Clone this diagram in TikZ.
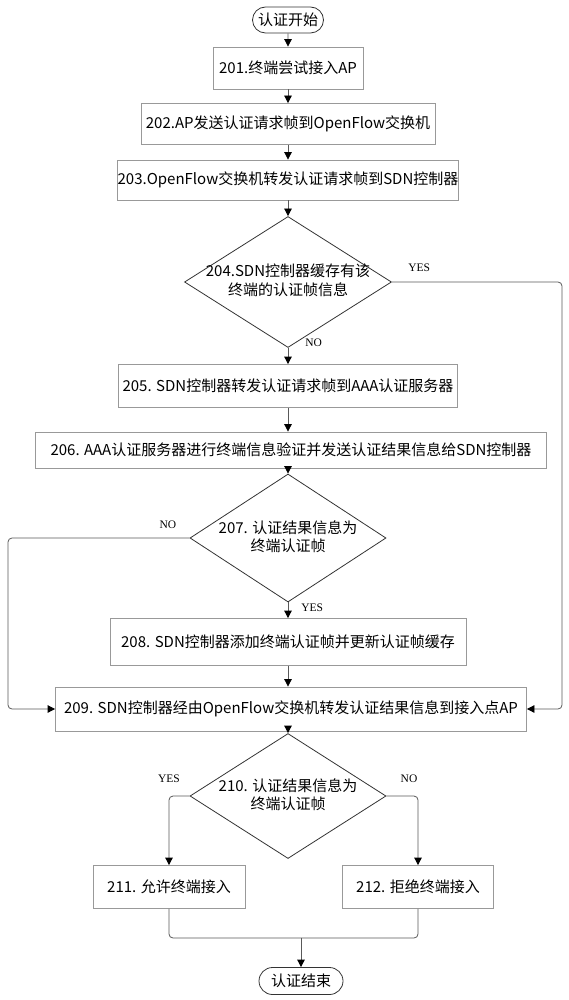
\documentclass[tikz,border=0pt]{standalone}
\usepackage{fontspec}
\newfontfamily\cjk{Noto Sans CJK SC}
\newfontfamily\labfont{Liberation Serif}
\usepackage{tikz}
\usetikzlibrary{shapes.misc,shapes.geometric,arrows.meta,positioning}
% text of a decision, kept out of the size of the diamond
\newcommand{\dtext}[1]{\raisebox{-4pt}[0pt][0pt]{\makebox[0pt]{\begin{tabular}{@{}c@{}}#1\end{tabular}}}}

\begin{document}
\begin{tikzpicture}[x=1pt, y=-1pt,
  font=\cjk\fontsize{15}{18}\selectfont,
  box/.style={draw=black!40, line width=0.8pt, rectangle, inner sep=0pt, minimum height=42pt},
  term/.style={draw=black!80, line width=0.8pt, rounded rectangle, inner sep=0pt, minimum height=26pt},
  dec/.style={draw=black!80, line width=0.8pt, diamond, inner sep=0pt},
  line/.style={draw=black!65, line width=0.8pt, rounded corners=4pt},
  arr/.style={line, -{Triangle[length=7.5pt,width=7.5pt,color=black]}},
  yn/.style={font=\labfont\fontsize{11.5}{13}\selectfont, inner sep=0pt}]
\def \axis {288}
\def \axisb {291}
\useasboundingbox (0,0) rectangle (568,1000);

%start and first steps
\node[term, minimum width=71pt] (start) at (\axis,20) {认证开始};
\node[box, minimum width=150pt] (b201) at (\axis,68) {201.终端尝试接入AP};
\node[box, minimum width=294pt, minimum height=41pt] (b202) at (\axis,124) {202.AP发送认证请求帧到OpenFlow交换机};
\node[box, minimum width=341pt, minimum height=40pt] (b203) at (\axis,180) {203.OpenFlow交换机转发认证请求帧到SDN控制器};
\node[dec, minimum width=207pt, minimum height=131pt] (d204) at (\axis,282) {\dtext{204.SDN控制器缓存有该\\终端的认证帧信息}};

%AAA check
\node[box, minimum width=339pt, minimum height=43pt] (b205) at (\axis,386) {205. SDN控制器转发认证请求帧到AAA认证服务器};
\node[box, minimum width=511pt, minimum height=36pt] (b206) at (\axisb,450) {206. AAA认证服务器进行终端信息验证并发送认证结果信息给SDN控制器};
\node[dec, minimum width=196pt, minimum height=128pt] (d207) at (\axis,538) {\dtext{207. 认证结果信息为\\终端认证帧}};
\node[box, minimum width=356pt, minimum height=47pt] (b208) at (\axis,642) {208. SDN控制器添加终端认证帧并更新认证帧缓存};
\node[box, minimum width=471pt, minimum height=44pt] (b209) at (\axisb,709) {209. SDN控制器经由OpenFlow交换机转发认证结果信息到接入点AP};

%result at the AP
\node[dec, minimum width=196pt, minimum height=125pt] (d210) at (\axis,796) {\dtext{210. 认证结果信息为\\终端认证帧}};
\node[box, minimum width=152pt, minimum height=43pt] (b211) at (169,887) {211. 允许终端接入};
\node[box, minimum width=151pt, minimum height=43pt] (b212) at (418,887) {212. 拒绝终端接入};
\node[term, minimum width=84pt, minimum height=27pt] (end) at (301,981) {认证结束};
\coordinate (join) at (301,938);

%connectors
\draw[arr] (start) -- (b201);
\draw[arr] (b201) -- (b202);
\draw[arr] (b202) -- (b203);
\draw[arr] (b203) -- (d204);
\draw[arr] (d204) -- node[yn, at start, anchor=south west, xshift=17pt, yshift=1pt] {NO} (b205);
\draw[arr] (d204.east) -- node[yn, pos=0.16, above=10pt] {YES} (562,282) |- (b209.east);
\draw[arr] (b205.south) -- (b205.south |- b206.north);
\draw[arr] (d207.north |- b206.south) -- (d207);
\draw[arr] (d207.west) -- node[yn, pos=0.12, above=9pt] {NO} (8,538) |- (b209.west);
\draw[arr] (d207) -- node[yn, at start, anchor=north west, xshift=13pt, yshift=-1pt] {YES} (b208);
\draw[arr] (b208.south) -- (b208.south |- b209.north);
\draw[arr] (d210.north |- b209.south) -- (d210);
\draw[arr] (d210.west) -| node[yn, pos=0.5, above=13pt] {YES} (b211);
\draw[arr] (d210.east) -| node[yn, pos=0.5, above=13pt, xshift=-9pt] {NO} (b212);
\draw[line] (b211) |- (join);
\draw[line] (b212) |- (join);
\draw[arr] (join) -- (end);

\end{tikzpicture}
\end{document}
